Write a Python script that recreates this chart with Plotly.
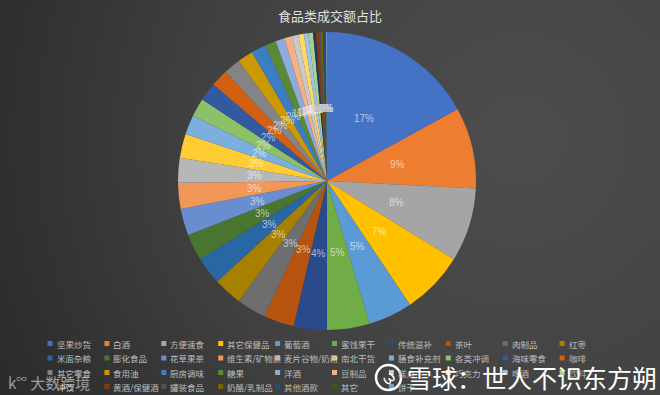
import math
import base64
import plotly.graph_objects as go

# ---------------- data ----------------
categories = [
    "坚果炒货", "白酒", "方便速食", "其它保健品", "葡萄酒", "蜜饯果干", "传统滋补", "茶叶", "肉制品", "红枣",
    "米面杂粮", "膨化食品", "花草果茶", "维生素/矿物质", "麦片谷物/奶粉", "南北干货", "膳食补充剂", "各类冲调", "海味零食", "咖啡",
    "其它零食", "食用油", "厨房调味", "糖果", "洋酒", "豆制品", "糕点", "巧克力", "啤酒", "饮料",
    "冲饮", "黄酒/保健酒", "罐装食品", "奶酪/乳制品", "其他酒款", "其它", "饼干",
]
values = [
    17.0, 8.8, 8.0, 6.8, 4.8, 4.6, 3.6, 3.3, 3.2, 3.1,
    3.0, 2.9, 2.9, 2.8, 2.7, 2.6, 2.1, 2.0, 2.0, 1.9,
    1.8, 1.7, 1.6, 1.2, 1.0, 0.8, 0.7, 0.6, 0.5, 0.5,
    0.3, 0.3, 0.25, 0.2, 0.2, 0.15, 0.1,
]
colors = [
    "#4472C4", "#ED7D31", "#A5A5A5", "#FFC000", "#5B9BD5", "#70AD47",
    "#2A4A8C", "#B5530F", "#6E6E6E", "#A88000", "#2866A4", "#4A7530",
    "#698ED0", "#F1975A", "#B7B7B7", "#FFCD33", "#7CAFDD", "#8CC168",
    "#335AA1", "#D26012", "#848484", "#CC9A00", "#3C7DC4", "#5A8A39",
    "#8FAADC", "#F4B183", "#C9C9C9", "#FFD966", "#9DC3E6", "#A9D18E",
    "#203864", "#843C0C", "#525252", "#7F6000", "#1F4E79", "#385723",
    "#7C9CD6",
]
title_text = "食品类成交额占比"

# ---------------- layout geometry ----------------
W, H = 660, 395
CX, CY, R = 327.0, 181.0, 149.0
RL = 72.5  # radius at which percentage labels sit

def px_x(x):
    return x / W

def px_y(y):
    return 1 - y / H

def tint(hexc, f):
    h = hexc.lstrip("#")
    r, g, b = int(h[0:2], 16), int(h[2:4], 16), int(h[4:6], 16)
    r = int(r + (255 - r) * f)
    g = int(g + (255 - g) * f)
    b = int(b + (255 - b) * f)
    return f"#{r:02x}{g:02x}{b:02x}"

fig = go.Figure(
    go.Pie(
        labels=categories,
        values=values,
        sort=False,
        direction="clockwise",
        rotation=0,
        marker=dict(colors=colors, line=dict(width=0)),
        textinfo="none",
        hoverinfo="label+percent",
        showlegend=False,
        domain=dict(x=[px_x(CX - R), px_x(CX + R)], y=[px_y(CY + R), px_y(CY - R)]),
    )
)

annotations = []
shapes = []

# percentage labels from the data
total = sum(values)
cum = 0.0
for v, c in zip(values, colors):
    mid = cum + v / 2
    cum += v
    th = 2 * math.pi * mid / total
    x = CX + RL * math.sin(th)
    y = CY - RL * math.cos(th)
    pct = int(v / total * 100 + 0.5)
    annotations.append(dict(
        x=px_x(x), y=px_y(y), xref="paper", yref="paper",
        text=f"{pct}%", showarrow=False,
        font=dict(family="Liberation Sans, Arial", size=10, color=tint(c, 0.62)),
        xanchor="center", yanchor="middle",
    ))

# title
annotations.append(dict(
    x=px_x(330), y=px_y(16), xref="paper", yref="paper", text=title_text,
    showarrow=False, font=dict(family="Noto Sans CJK SC", size=13, color="#e2e2e2"),
    xanchor="center", yanchor="middle",
))

# legend (10 columns, Excel style)
col0, colstep = 50.0, 56.9
rows_y = [343.5, 358.0, 372.5, 386.5]
for i, (name, c) in enumerate(zip(categories, colors)):
    row, col = divmod(i, 10)
    mx = col0 + colstep * col
    my = rows_y[row]
    shapes.append(dict(
        type="rect", xref="paper", yref="paper",
        x0=px_x(mx - 2.5), x1=px_x(mx + 2.5), y0=px_y(my + 2.5), y1=px_y(my - 2.5),
        fillcolor=c, line=dict(width=0), layer="above",
    ))
    annotations.append(dict(
        x=px_x(mx + 4.5), y=px_y(my), xref="paper", yref="paper", text=name,
        showarrow=False, font=dict(family="Noto Sans CJK SC", size=8.5, color="#bdbdbd"),
        xanchor="left", yanchor="middle",
    ))

# watermarks
annotations.append(dict(
    x=px_x(6), y=px_y(382), xref="paper", yref="paper",
    text="k<sup>∞</sup> 大数跨境", showarrow=False,
    font=dict(family="Noto Sans CJK SC", size=15, color="rgba(235,235,235,0.6)"),
    xanchor="left", yanchor="middle",
))
annotations.append(dict(
    x=px_x(405), y=px_y(377), xref="paper", yref="paper",
    text="雪球：世人不识东方朔", showarrow=False,
    font=dict(family="Noto Sans CJK SC", size=25, color="#ffffff"),
    xanchor="left", yanchor="middle",
))
shapes.append(dict(
    type="circle", xref="paper", yref="paper",
    x0=px_x(376), x1=px_x(401), y0=px_y(390), y1=px_y(365),
    line=dict(color="#ffffff", width=2.5), layer="above",
))
annotations.append(dict(
    x=px_x(388.5), y=px_y(377.5), xref="paper", yref="paper",
    text="ω", showarrow=False,
    font=dict(family="DejaVu Sans", size=15, color="#ffffff"),
    xanchor="center", yanchor="middle", textangle=-40,
))

# background gradient
svg = (
    f'<svg xmlns="http://www.w3.org/2000/svg" width="{W}" height="{H}">'
    '<defs><radialGradient id="g" gradientUnits="userSpaceOnUse" cx="520" cy="140" r="580">'
    '<stop offset="0" stop-color="#4d4d4d"/><stop offset="0.55" stop-color="#414141"/>'
    '<stop offset="1" stop-color="#2a2a2a"/></radialGradient></defs>'
    f'<rect width="{W}" height="{H}" fill="url(#g)"/></svg>'
)
bg_src = "data:image/svg+xml;base64," + base64.b64encode(svg.encode()).decode()

fig.update_layout(
    width=W, height=H,
    margin=dict(l=0, r=0, t=0, b=0),
    paper_bgcolor="#3c3c3c",
    plot_bgcolor="#3c3c3c",
    annotations=annotations,
    shapes=shapes,
    images=[dict(source=bg_src, xref="paper", yref="paper", x=0, y=1, sizex=1, sizey=1,
                 sizing="stretch", layer="below", xanchor="left", yanchor="top")],
)

fig.write_html("out.html")
